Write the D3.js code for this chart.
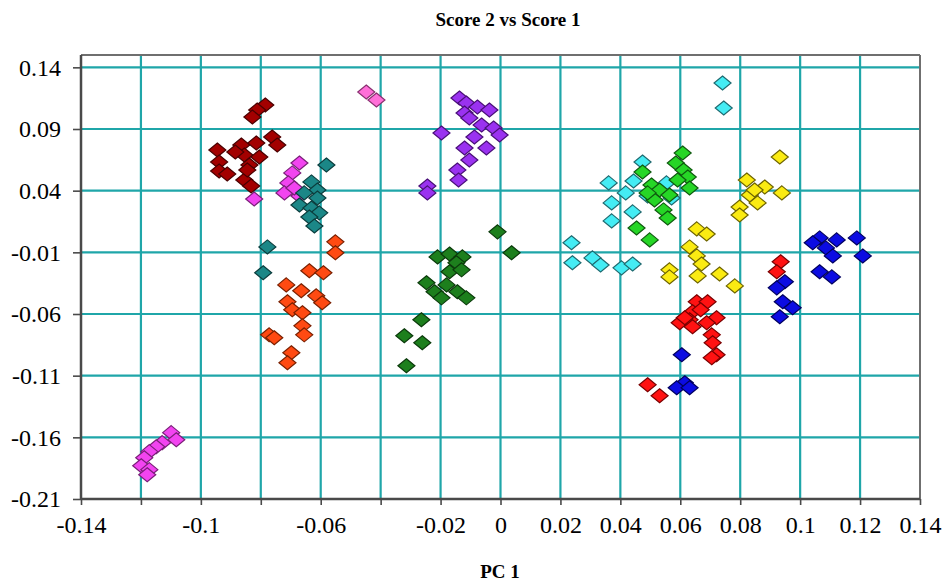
<!DOCTYPE html>
<html>
<head>
<meta charset="utf-8">
<script src="https://cdn.jsdelivr.net/npm/d3@7"></script>
<style>
  html, body { margin: 0; padding: 0; background: #fff; }
  svg { display: block; }
  svg text { font-family: 'Liberation Serif', 'Times New Roman', Times, serif; fill: #000; }
</style>
</head>
<body>
<svg id="chart" width="942" height="588"></svg>
<script>
// PCA scores (PC 1 vs PC 2) grouped by class
const groupNames = ["darkred", "magenta", "pink", "teal", "orange", "purple", "darkgreen", "cyan", "green", "yellow", "red", "blue"];
const groupColors = ["#a30000", "#f244f0", "#ff6fd8", "#1b8787", "#ff4a12", "#9a32f0", "#1d7f1d", "#44ecf4", "#26d626", "#fbeb12", "#ff1212", "#0c0ce2"];
const groupStrokes = ["#4a0000", "#7a1f78", "#8a3070", "#0b3d3d", "#7a2000", "#4a1078", "#0b3a0b", "#1f6a70", "#0f5a0f", "#6e6400", "#7a0000", "#00005e"];

const darkredX = [-0.0785, -0.0812, -0.0828, -0.0762, -0.0745, -0.0945, -0.0865, -0.0815, -0.0855, -0.0805, -0.0885, -0.0838, -0.0939, -0.0939, -0.0912, -0.0855, -0.0832, -0.0845];
const darkredY = [0.1094, 0.1054, 0.0997, 0.0835, 0.0770, 0.0730, 0.0770, 0.0787, 0.0689, 0.0673, 0.0714, 0.0608, 0.0633, 0.0560, 0.0535, 0.0487, 0.0438, 0.0568];

const magentaX = [-0.0671, -0.0695, -0.0708, -0.0721, -0.0671, -0.0822, -0.0688, -0.1099, -0.1082, -0.1129, -0.1149, -0.1172, -0.1189, -0.1199, -0.1172, -0.1179];
const magentaY = [0.0625, 0.0544, 0.0463, 0.0382, 0.0357, 0.0333, 0.0422, -0.1562, -0.1619, -0.1643, -0.1676, -0.1716, -0.1765, -0.1830, -0.1862, -0.1903];

const pinkX = [-0.0448, -0.0414];
const pinkY = [0.1200, 0.1135];

const tealX = [-0.0581, -0.0631, -0.0611, -0.0655, -0.0611, -0.0671, -0.0631, -0.0605, -0.0638, -0.0621, -0.0778, -0.0792];
const tealY = [0.0608, 0.0471, 0.0406, 0.0382, 0.0341, 0.0284, 0.0260, 0.0220, 0.0187, 0.0114, -0.0056, -0.0266];

const orangeX = [-0.0551, -0.0551, -0.0638, -0.0591, -0.0715, -0.0665, -0.0615, -0.0595, -0.0711, -0.0695, -0.0661, -0.0661, -0.0655, -0.0772, -0.0755, -0.0698, -0.0711];
const orangeY = [-0.0015, -0.0104, -0.0250, -0.0266, -0.0364, -0.0412, -0.0453, -0.0509, -0.0501, -0.0566, -0.0590, -0.0696, -0.0769, -0.0769, -0.0793, -0.0914, -0.0995];

const purpleX = [-0.0197, -0.0137, -0.0114, -0.0077, -0.0037, -0.0120, -0.0063, -0.0023, -0.0003, -0.0087, -0.0047, -0.0120, -0.0104, -0.0144, -0.0140, -0.0244, -0.0244, -0.0104];
const purpleY = [0.0868, 0.1151, 0.1111, 0.1078, 0.1054, 0.1030, 0.0932, 0.0908, 0.0851, 0.0835, 0.0746, 0.0746, 0.0649, 0.0568, 0.0487, 0.0438, 0.0382, 0.0989];

const darkgreenX = [-0.0010, 0.0037, -0.0210, -0.0170, -0.0127, -0.0147, -0.0170, -0.0130, -0.0247, -0.0220, -0.0197, -0.0144, -0.0114, -0.0264, -0.0321, -0.0261, -0.0314, -0.0180];
const darkgreenY = [0.0066, -0.0104, -0.0137, -0.0113, -0.0137, -0.0185, -0.0258, -0.0242, -0.0347, -0.0420, -0.0469, -0.0420, -0.0469, -0.0647, -0.0777, -0.0833, -0.1020, -0.0364];

const cyanX = [0.0741, 0.0745, 0.0474, 0.0361, 0.0444, 0.0418, 0.0554, 0.0571, 0.0491, 0.0371, 0.0371, 0.0441, 0.0237, 0.0240, 0.0307, 0.0334, 0.0404, 0.0441, 0.0514];
const cyanY = [0.1273, 0.1070, 0.0633, 0.0463, 0.0479, 0.0382, 0.0463, 0.0341, 0.0357, 0.0301, 0.0155, 0.0228, -0.0023, -0.0185, -0.0145, -0.0202, -0.0226, -0.0194, 0.0406];

const greenX = [0.0608, 0.0585, 0.0611, 0.0474, 0.0625, 0.0591, 0.0504, 0.0531, 0.0631, 0.0514, 0.0544, 0.0558, 0.0454, 0.0498, 0.0491, 0.0564];
const greenY = [0.0706, 0.0625, 0.0568, 0.0552, 0.0511, 0.0487, 0.0446, 0.0406, 0.0422, 0.0325, 0.0244, 0.0179, 0.0098, 0.0001, 0.0382, 0.0365];

const yellowX = [0.0932, 0.0822, 0.0882, 0.0939, 0.0832, 0.0858, 0.0798, 0.0798, 0.0655, 0.0688, 0.0631, 0.0655, 0.0671, 0.0564, 0.0564, 0.0658, 0.0731, 0.0782, 0.0848];
const yellowY = [0.0673, 0.0487, 0.0430, 0.0382, 0.0365, 0.0301, 0.0268, 0.0203, 0.0090, 0.0049, -0.0056, -0.0129, -0.0194, -0.0242, -0.0299, -0.0291, -0.0275, -0.0372, 0.0406];

const redX = [0.0935, 0.0922, 0.0655, 0.0691, 0.0641, 0.0668, 0.0598, 0.0631, 0.0641, 0.0721, 0.0688, 0.0705, 0.0708, 0.0721, 0.0705, 0.0491, 0.0531, 0.0615];
const redY = [-0.0177, -0.0258, -0.0501, -0.0501, -0.0582, -0.0566, -0.0671, -0.0647, -0.0704, -0.0631, -0.0671, -0.0769, -0.0833, -0.0931, -0.0955, -0.1174, -0.1263, -0.0631];

const blueX = [0.1065, 0.1042, 0.1086, 0.1122, 0.1189, 0.1109, 0.1209, 0.1065, 0.1106, 0.0949, 0.0922, 0.0942, 0.0975, 0.0932, 0.0605, 0.0615, 0.0588, 0.0631];
const blueY = [0.0017, -0.0023, -0.0064, 0.0001, 0.0017, -0.0129, -0.0129, -0.0258, -0.0299, -0.0339, -0.0388, -0.0501, -0.0550, -0.0623, -0.0931, -0.1158, -0.1198, -0.1198];

const seriesX = [darkredX, magentaX, pinkX, tealX, orangeX, purpleX, darkgreenX, cyanX, greenX, yellowX, redX, blueX];
const seriesY = [darkredY, magentaY, pinkY, tealY, orangeY, purpleY, darkgreenY, cyanY, greenY, yellowY, redY, blueY];

// Axis ticks and labels
const xTicks = [-0.14, -0.12, -0.10, -0.08, -0.06, -0.04, -0.02, 0, 0.02, 0.04, 0.06, 0.08, 0.10, 0.12, 0.14];
const xTickLabels = ["-0.14", "", "-0.1", "", "-0.06", "", "-0.02", "0", "0.02", "0.04", "0.06", "0.08", "0.1", "0.12", "0.14"];
const yTicks = [-0.21, -0.16, -0.11, -0.06, -0.01, 0.04, 0.09, 0.14];
const yTickLabels = ["-0.21", "-0.16", "-0.11", "-0.06", "-0.01", "0.04", "0.09", "0.14"];
const chartTitle = "Score 2 vs Score 1";
const xTitle = "PC 1";

const serif = "'Liberation Serif', 'Times New Roman', Times, serif";
const svg = d3.select("#chart");
const plot = { left: 81, right: 920, top: 55, bottom: 499 };

const x = d3.scaleLinear().domain([-0.14, 0.14]).range([plot.left, plot.right]);
const y = d3.scaleLinear().domain([-0.21, 0.15]).range([plot.bottom, plot.top]);

const gridColor = "#1fa6a9";

// grid
svg.append("g").selectAll("line").data(xTicks.slice(1, -1)).join("line")
  .attr("x1", d => x(d)).attr("x2", d => x(d))
  .attr("y1", plot.top).attr("y2", plot.bottom)
  .attr("stroke", gridColor).attr("stroke-width", 2.2);
svg.append("g").selectAll("line").data(yTicks.slice(1)).join("line")
  .attr("x1", plot.left).attr("x2", plot.right)
  .attr("y1", d => y(d)).attr("y2", d => y(d))
  .attr("stroke", gridColor).attr("stroke-width", 2.2);

// frame (top and right)
svg.append("line").attr("x1", plot.left).attr("x2", plot.right).attr("y1", plot.top).attr("y2", plot.top)
  .attr("stroke", "#6f6f6f").attr("stroke-width", 2);
svg.append("line").attr("x1", plot.right).attr("x2", plot.right).attr("y1", plot.top).attr("y2", plot.bottom)
  .attr("stroke", "#6f6f6f").attr("stroke-width", 2);

// axes
const xAxis = d3.axisBottom(x).tickValues(xTicks).tickSize(6).tickFormat((d, i) => xTickLabels[i]);
const yAxis = d3.axisLeft(y).tickValues(yTicks).tickSize(8).tickFormat((d, i) => yTickLabels[i]);

const gx = svg.append("g").attr("transform", `translate(0,${plot.bottom})`).call(xAxis);
gx.attr("font-family", null);
gx.select(".domain").attr("stroke", "#4a4a4a").attr("stroke-width", 2.5).attr("d", `M${plot.left},0H${plot.right}`);
gx.selectAll(".tick line").attr("stroke", "#4a4a4a").attr("stroke-width", 1.6);
gx.selectAll(".tick text")
  .style("font-family", serif)
  .style("font-size", "24px").attr("fill", "#000").attr("y", 17);

const gy = svg.append("g").attr("transform", `translate(${plot.left},0)`).call(yAxis);
gy.attr("font-family", null);
gy.select(".domain").attr("stroke", "#4a4a4a").attr("stroke-width", 2.5).attr("d", `M0,${plot.top}V${plot.bottom}`);
gy.selectAll(".tick line").attr("stroke", "#4a4a4a").attr("stroke-width", 1.6);
gy.selectAll(".tick text")
  .style("font-family", serif)
  .style("font-size", "24px").attr("fill", "#000").attr("x", -20);

// diamond markers
const hw = 8.5, hh = 7;
const diamond = `M0,${-hh}L${hw},0L0,${hh}L${-hw},0Z`;

groupNames.forEach((name, gi) => {
  const pts = seriesX[gi].map((v, i) => ({ x: v, y: seriesY[gi][i] }));
  svg.append("g").attr("class", "series-" + name)
    .selectAll("path").data(pts).join("path")
    .attr("d", diamond)
    .attr("transform", d => `translate(${x(d.x)},${y(d.y)})`)
    .attr("fill", groupColors[gi])
    .attr("stroke", groupStrokes[gi])
    .attr("stroke-width", 1.2);
});

// titles
svg.append("text").attr("x", 508).attr("y", 26).attr("text-anchor", "middle")
  .style("font-family", serif).style("font-weight", "bold").style("font-size", "19px").text(chartTitle);
svg.append("text").attr("x", 500).attr("y", 578).attr("text-anchor", "middle")
  .style("font-family", serif).style("font-weight", "bold").style("font-size", "19px").text(xTitle);
</script>
</body>
</html>
